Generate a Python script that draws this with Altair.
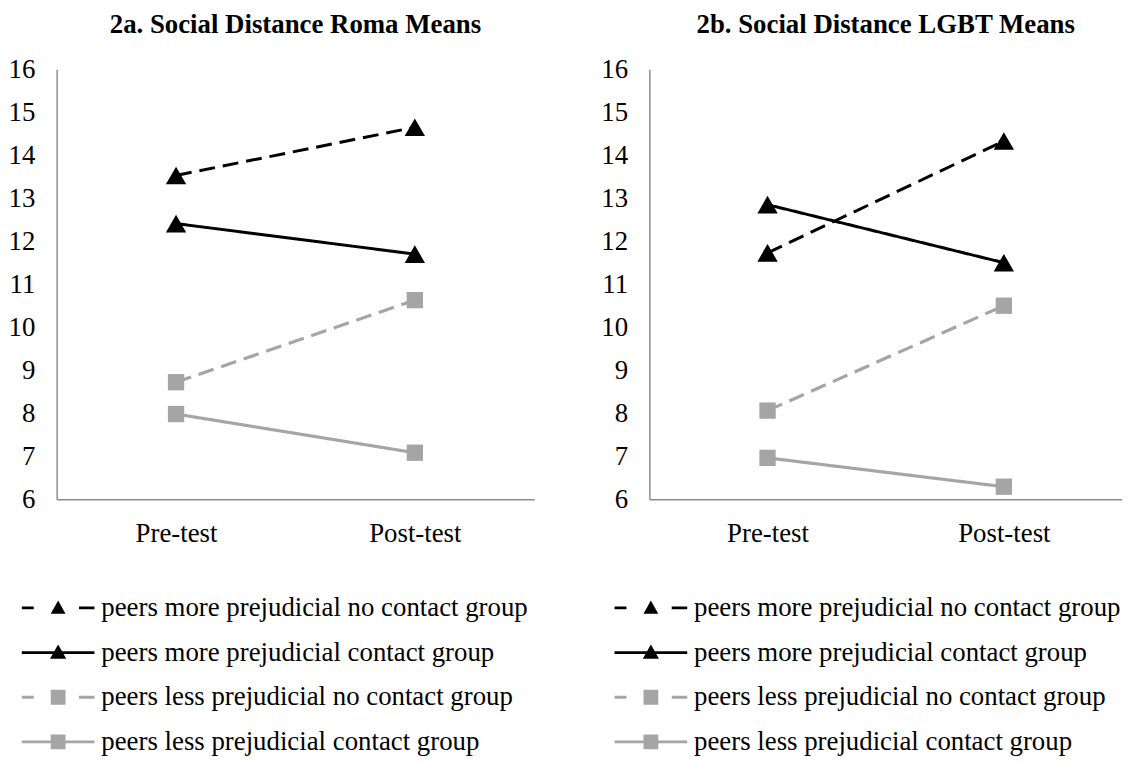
import altair as alt
import pandas as pd

times = ["Pre-test", "Post-test"]
series = [
    "peers more prejudicial no contact group",
    "peers more prejudicial contact group",
    "peers less prejudicial no contact group",
    "peers less prejudicial contact group",
]
series_style = ["dashed", "solid", "dashed", "solid"]
roma_pre = [13.53, 12.41, 8.72, 7.98]
roma_post = [14.65, 11.70, 10.63, 7.08]
lgbt_pre = [11.73, 12.85, 8.06, 6.96]
lgbt_post = [14.33, 11.50, 10.50, 6.29]
titles = ["2a. Social Distance Roma Means", "2b. Social Distance LGBT Means"]
y_ticks = list(range(6, 17))

BLACK = "#000000"
GRAY = "#a5a5a5"
colors = [BLACK, BLACK, GRAY, GRAY]
tri_dash = "M-3.05,-0.12H-2.05V0.12H-3.05Z M1.75,-0.12H3.05V0.12H1.75Z M0,-0.62L0.62,0.5H-0.62Z"
tri_solid = "M-3.05,-0.12H3.05V0.12H-3.05Z M0,-0.68L0.68,0.52H-0.68Z"
sq_dash = "M-3.05,-0.12H-2.05V0.12H-3.05Z M1.75,-0.12H3.05V0.12H1.75Z M-0.62,-0.62H0.62V0.62H-0.62Z"
sq_solid = "M-3.05,-0.12H3.05V0.12H-3.05Z M-0.62,-0.62H0.62V0.62H-0.62Z"
legend_paths = [tri_dash, tri_solid, sq_dash, sq_solid]

FONT = "Liberation Serif"


def panel(pre, post, title, width):
    rows = []
    for s, st, a, b in zip(series, series_style, pre, post):
        rows.append({"series": s, "style": st, "time": times[0], "value": a})
        rows.append({"series": s, "style": st, "time": times[1], "value": b})
    df = pd.DataFrame(rows)
    x = alt.X(
        "time:N", sort=times,
        scale=alt.Scale(type="point", padding=0.5),
        axis=alt.Axis(title=None, labelAngle=0, ticks=False, tickSize=0,
                      labelPadding=22, labelFontSize=27, labelFont=FONT,
                      labelColor="black", domainColor="#8c8c8c",
                      domainWidth=1.5, grid=False),
    )
    y = alt.Y(
        "value:Q",
        scale=alt.Scale(domain=[6, 16], nice=False, zero=False),
        axis=alt.Axis(title=None, values=y_ticks, ticks=False, tickSize=0,
                      labelPadding=22, labelFontSize=27, labelFont=FONT,
                      labelColor="black", domainColor="#8c8c8c",
                      domainWidth=1.5, grid=False),
    )
    base = alt.Chart(df)
    more = alt.FieldOneOfPredicate(field="series", oneOf=series[:2])
    less = alt.FieldOneOfPredicate(field="series", oneOf=series[2:])
    dash = alt.StrokeDash("style:N", scale=alt.Scale(domain=["dashed", "solid"], range=[[16, 8], [1, 0]]), legend=None)
    black_lines = base.transform_filter(more).mark_line(strokeWidth=3, color=BLACK).encode(
        x=x, y=y, strokeDash=dash, detail="series:N")
    gray_lines = base.transform_filter(less).mark_line(strokeWidth=3.2, color=GRAY).encode(
        x=x, y=y, strokeDash=dash, detail="series:N")
    tri = base.transform_filter(more).mark_point(
        shape="triangle-up", filled=True, size=420, opacity=1, strokeWidth=0, color=BLACK
    ).encode(x=x, y=y)
    sq = base.transform_filter(less).mark_point(
        shape="square", filled=True, size=270, opacity=1, strokeWidth=0, color=GRAY
    ).encode(x=x, y=y)
    leg = alt.Legend(title=None, orient="none", legendX=-12, legendY=529,
                     symbolSize=576, symbolStrokeWidth=0, symbolOpacity=1,
                     labelFont=FONT, labelFontSize=27, labelColor="black",
                     labelOffset=30, labelLimit=800, rowPadding=17)
    legend_layer = base.mark_point(
        filled=True, size=1, opacity=0, strokeWidth=0
    ).encode(
        x=x, y=y,
        color=alt.Color("series:N", scale=alt.Scale(domain=series, range=colors), legend=leg),
        shape=alt.Shape("series:N", scale=alt.Scale(domain=series, range=legend_paths), legend=leg),
    )
    return alt.layer(black_lines, gray_lines, tri, sq, legend_layer).properties(
        width=width, height=433,
        title=alt.TitleParams(title, font=FONT, fontSize=27, fontWeight="bold",
                              color="black", anchor="middle", offset=17),
    )


left = panel(roma_pre, roma_post, titles[0], 481)
right = panel(lgbt_pre, lgbt_post, titles[1], 476)

chart = alt.hconcat(left, right, spacing=67).resolve_scale(
    color="independent", shape="independent", strokeDash="independent"
).resolve_legend(
    color="independent", shape="independent"
).configure_view(stroke=None).properties(padding=0, background="white")

chart.save("out.html", embed_options={"renderer": "svg", "actions": False})
